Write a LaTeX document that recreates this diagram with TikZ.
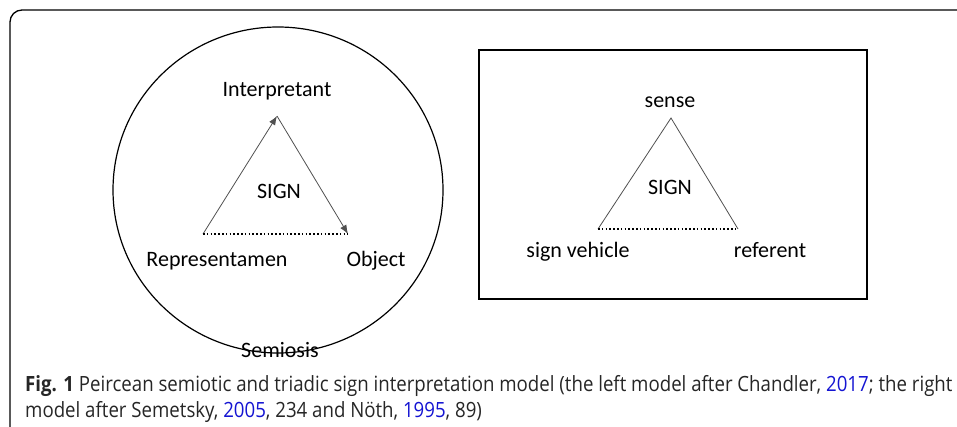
\documentclass[tikz,border=0pt]{standalone}
\usepackage{fontspec}
\setmainfont{Carlito}
\newfontfamily\capfont[FakeStretch=0.888]{Open Sans}
\usetikzlibrary{positioning,arrows.meta}
\definecolor{linkblue}{RGB}{20,20,210}
\definecolor{edgegray}{RGB}{80,80,80}
\begin{document}
\begin{tikzpicture}[x=1pt, y=-1pt, font=\fontsize{22}{26}\selectfont]
    \tikzstyle{term} = [inner sep=0pt, anchor=base, text=black]
    \tikzstyle{side} = [draw=edgegray, line width=0.8pt]
    \tikzstyle{base} = [draw=black, line width=1.6pt, dash pattern=on 1.6pt off 2.2pt]
    \tikzstyle{tip} = [-{Latex[length=9pt, width=7pt]}]
    \tikzstyle{caption} = [inner sep=0pt, anchor=base west, font=\capfont\fontsize{21}{26}\selectfont, text=black!85]

    \useasboundingbox (0,0) rectangle (957,427);
    \clip (0,0) rectangle (957,427);

    % Outer frame
    \draw [line width=1.3pt, rounded corners=12pt] (10,470) -- (10,10) -- (990,10);

    % Left model
    \draw [line width=1.2pt] (278,190) ellipse [x radius=165, y radius=163];
    \coordinate (interp) at (277,116);
    \coordinate (repr) at (203,234);
    \coordinate (obj) at (348,234);
    \draw [side, tip] (repr) -- (interp);
    \draw [side, tip] (interp) -- (obj);
    \draw [base] (repr) -- (obj);

    \node [term] (interp_label) at (277,97) {Interpretant};
    \node [term] (sign_left) at (279,199) {SIGN};
    \node [term] (repr_label) at (217,267) {Representamen};
    \node [term] (obj_label) at (376,267) {Object};
    \node [term] (semiosis) at (280,357) {Semiosis};

    % Right model
    \draw [line width=1.2pt] (479,50) rectangle (867,299);
    \coordinate (sense) at (671,118);
    \coordinate (vehicle) at (598,229);
    \coordinate (referent) at (738,229);
    \draw [side] (vehicle) -- (sense) -- (referent);
    \draw [base] (vehicle) -- (referent);

    \node [term] (sense_label) at (670,108) {sense};
    \node [term] (sign_right) at (670,195) {SIGN};
    \node [term] (vehicle_label) at (578,258) {sign vehicle};
    \node [term] (referent_label) at (770,258) {referent};

    % Caption
    \node [caption] (cap_one) at (25,391) {\textbf{Fig. 1} Peircean semiotic and triadic sign interpretation model (the left model after Chandler, \textcolor{linkblue}{2017}; the right};
    \node [caption] (cap_two) at (25,417) {model after Semetsky, \textcolor{linkblue}{2005}, 234 and Nöth, \textcolor{linkblue}{1995}, 89)};
\end{tikzpicture}
\end{document}
